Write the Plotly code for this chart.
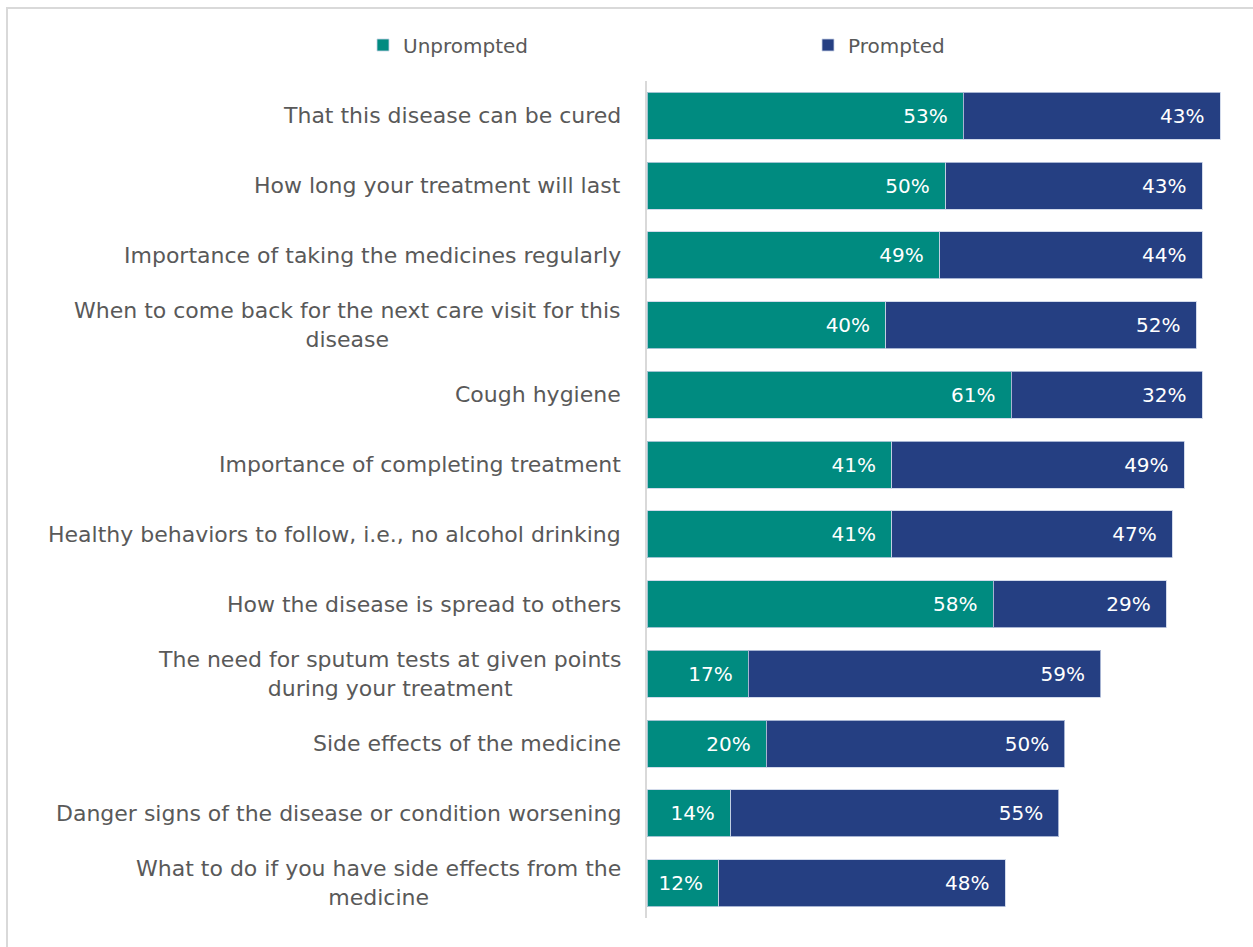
import plotly.graph_objects as go

categories = [
    "That this disease can be cured",
    "How long your treatment will last",
    "Importance of taking the medicines regularly",
    "When to come back for the next care visit for this<br>disease",
    "Cough hygiene",
    "Importance of completing treatment",
    "Healthy behaviors to follow, i.e., no alcohol drinking",
    "How the disease is spread to others",
    "The need for sputum tests at given points<br>during your treatment",
    "Side effects of the medicine",
    "Danger signs of the disease or condition worsening",
    "What to do if you have side effects from the<br>medicine",
]
unprompted = [53, 50, 49, 40, 61, 41, 41, 58, 17, 20, 14, 12]
prompted = [43, 43, 44, 52, 32, 49, 47, 29, 59, 50, 55, 48]

TEAL = "#008B80"
NAVY = "#253F82"
FONT = "DejaVu Sans"
TEXT_GRAY = "#595959"
PAD = "\u00a0\u00a0"

fig = go.Figure()
for name, vals, color in [("Unprompted", unprompted, TEAL), ("Prompted", prompted, NAVY)]:
    fig.add_trace(go.Bar(
        name=name,
        y=categories,
        x=vals,
        orientation="h",
        marker=dict(color=color, line=dict(color="rgba(200,210,230,0.8)", width=1)),
        text=[f"{v}%{PAD}" for v in vals],
        textposition="inside",
        insidetextanchor="end",
        textfont=dict(family=FONT, size=20, color="white"),
        cliponaxis=False,
    ))

# category labels, centred multi-line text right-aligned against the axis
for c in categories:
    fig.add_annotation(
        x=0, xref="paper", xshift=-24, y=c, yref="y",
        text=c, showarrow=False, xanchor="right", align="center",
        font=dict(family=FONT, size=22, color=TEXT_GRAY),
    )

# outer chart frame
fig.add_shape(type="rect", xref="paper", yref="paper",
              x0=-1.072, x1=1.2, y0=-0.2, y1=1.0872,
              line=dict(color="#D9D9D9", width=2), layer="below")

fig.update_layout(
    width=1253, height=947,
    margin=dict(l=647, r=9, t=81, b=29),
    paper_bgcolor="white", plot_bgcolor="white",
    barmode="stack", bargap=0.326,
    showlegend=True,
    legend=dict(orientation="h", x=-0.373, xanchor="left", y=1.043, yanchor="middle",
                entrywidth=400, traceorder="normal",
                font=dict(family=FONT, size=20, color=TEXT_GRAY)),
    xaxis=dict(range=[0, 100], visible=False, fixedrange=True),
    yaxis=dict(autorange="reversed", showticklabels=False, showline=True,
               linecolor="#D9D9D9", linewidth=2, ticks="", showgrid=False),
    uniformtext=dict(mode=False),
)

fig.write_html("out.html")
